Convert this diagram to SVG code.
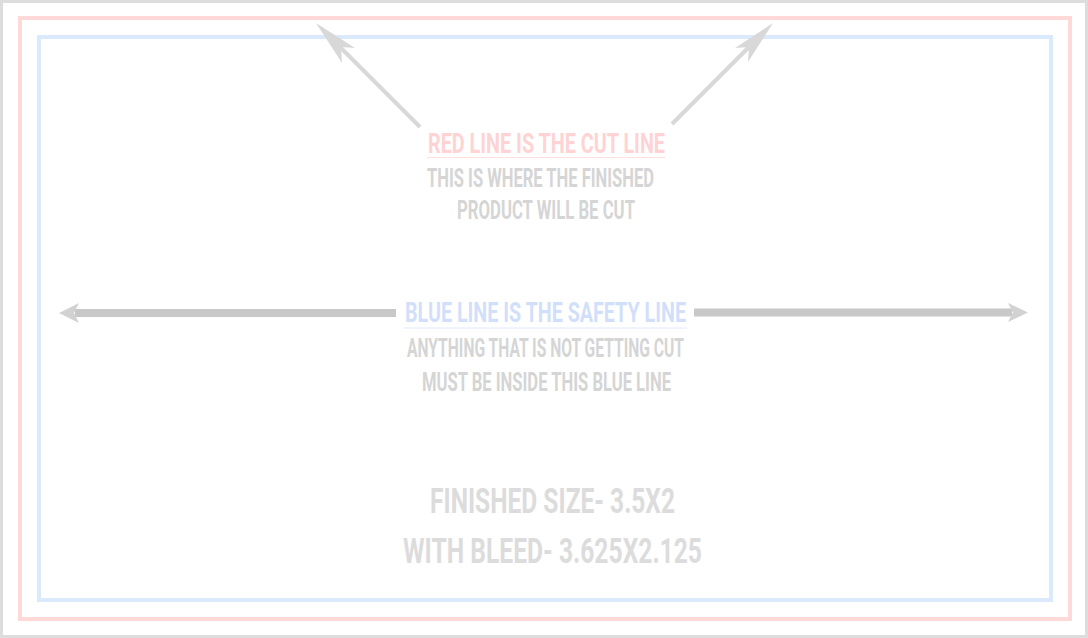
<svg xmlns="http://www.w3.org/2000/svg" width="1088" height="638" viewBox="0 0 1088 638">
<style>
.t{font-family:Roboto,"Liberation Sans",sans-serif;font-weight:700;text-anchor:start}
.grey{fill:#d5d5d5}
.big{fill:#dcdcdc}
.diag{stroke:#d8d8d8;stroke-width:4;fill:none}
.horiz{stroke:#c8c8c8;stroke-width:8;fill:none}
</style>
<rect x="0" y="0" width="1088" height="638" fill="#ffffff"/>
<rect x="1.5" y="1.5" width="1085" height="635" fill="none" stroke="#dddddd" stroke-width="3"/>
<g id="cut-line"><rect x="20" y="18" width="1050" height="601" fill="none" stroke="#ffd8d8" stroke-width="4"/></g>
<g id="safety-line"><rect x="39" y="37" width="1012" height="563" fill="none" stroke="#dbe9fc" stroke-width="4"/></g>
<g id="connectors">
<line class="diag" x1="420" y1="127" x2="330" y2="37"/>
<path d="M316,23 L355,48 L341,47 L342,63 Z" fill="#d8d8d8"/>
<line class="diag" x1="672" y1="124" x2="760" y2="36"/>
<path d="M773,23 L735,48 L749,47 L748,62 Z" fill="#d8d8d8"/>
<line class="horiz" x1="396" y1="313" x2="75" y2="313"/>
<path d="M59,313 L79,303 L74,313 L79,323 Z" fill="#d2d2d2"/>
<line class="horiz" x1="694" y1="312.5" x2="1012" y2="312.5"/>
<path d="M1028,312.5 L1008,303 L1013,312.5 L1008,322 Z" fill="#d2d2d2"/>
</g>
<g id="cut-label">
<text class="t" x="428" y="153" font-size="28" fill="#ffd3d3" textLength="237" lengthAdjust="spacingAndGlyphs">RED LINE IS THE CUT LINE</text>
<line x1="427" y1="157.5" x2="665" y2="157.5" stroke="#ffe0e0" stroke-width="1"/>
<text class="t grey" x="427" y="187" font-size="25.5" textLength="227" lengthAdjust="spacingAndGlyphs">THIS IS WHERE THE FINISHED</text>
<text class="t grey" x="457" y="219" font-size="25.5" textLength="178" lengthAdjust="spacingAndGlyphs">PRODUCT WILL BE CUT</text>
</g>
<g id="safety-label">
<text class="t" x="405" y="322" font-size="27" fill="#d2dffa" textLength="281" lengthAdjust="spacingAndGlyphs">BLUE LINE IS THE SAFETY LINE</text>
<line x1="404" y1="328" x2="687" y2="328" stroke="#dfe8fb" stroke-width="1"/>
<text class="t grey" x="407" y="357" font-size="26" textLength="277" lengthAdjust="spacingAndGlyphs">ANYTHING THAT IS NOT GETTING CUT</text>
<text class="t grey" x="422" y="391" font-size="26" textLength="249" lengthAdjust="spacingAndGlyphs">MUST BE INSIDE THIS BLUE LINE</text>
</g>
<g id="size-label">
<text class="t big" x="430" y="513" font-size="35" textLength="245" lengthAdjust="spacingAndGlyphs">FINISHED SIZE- 3.5X2</text>
<text class="t big" x="403" y="563" font-size="35" textLength="299" lengthAdjust="spacingAndGlyphs">WITH BLEED- 3.625X2.125</text>
</g>
</svg>
